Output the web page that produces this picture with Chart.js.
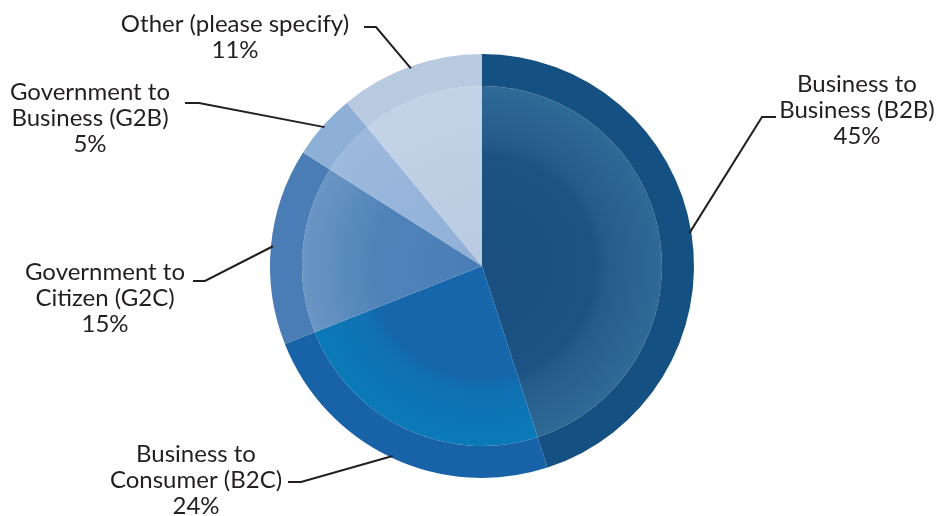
<!DOCTYPE html>
<html>
<head>
<meta charset="utf-8">
<title>E-commerce models</title>
<script src="https://cdn.jsdelivr.net/npm/chart.js@4.4.1/dist/chart.umd.min.js"></script>
<style>
  html, body { margin: 0; padding: 0; background: #fff; }
  #wrap { width: 937px; height: 516px; }
</style>
</head>
<body>
<div id="wrap"><canvas id="modelShare" width="937" height="516"></canvas></div>
<script>
const categories = ['Business to Business (B2B)', 'Business to Consumer (B2C)', 'Government to Citizen (G2C)', 'Government to Business (G2B)', 'Other (please specify)'];
const labelLines = [
    ['Business to', 'Business (B2B)'],
    ['Business to', 'Consumer (B2C)'],
    ['Government to', 'Citizen (G2C)'],
    ['Government to', 'Business (G2B)'],
    ['Other (please specify)']
];
const shares = [45, 24, 15, 5, 11];

// rim colours and the shaded disc inside it
const rimColors = ['#145082', '#1862a8', '#4a7db5', '#8eafd6', '#b8cae0'];
const discStops = [
    [[0, '#1a4f80'], [0.62, '#1c5284'], [0.69, '#245b8b'], [1, '#2f6a97']],
    [[0, '#1766ab'], [0.62, '#1566ab'], [0.69, '#1070b2'], [1, '#0a7ab8']],
    [[0, '#4a7db5'], [0.62, '#5084b9'], [1, '#6a95c4']],
    [[0, '#8fb0d7'], [1, '#9db9dd']],
    [[0, '#b9cbe1'], [1, '#c3d3e7']]
];

// where each callout goes: text centre x, first baseline, elbow and end of the short horizontal tick
const callouts = [
    { x: 857, y: 92, elbow: [762, 117], tick: [776, 117] },
    { x: 196, y: 462, elbow: [301, 482], tick: [288, 482] },
    { x: 105, y: 280, elbow: [205, 281], tick: [193, 281] },
    { x: 90, y: 100, elbow: [199, 103], tick: [185, 103] },
    { x: 235, y: 32, elbow: [376, 27], tick: [364, 27] }
];

function discGradient(context) {
    const chart = context.chart;
    const area = chart.chartArea;
    if (!area) return rimColors[context.dataIndex];
    const cx = (area.left + area.right) / 2;
    const cy = (area.top + area.bottom) / 2;
    const r = Math.min(area.width, area.height) / 2 * 180 / 212;
    const g = chart.ctx.createRadialGradient(cx, cy, 0, cx, cy, r);
    discStops[context.dataIndex].forEach(s => g.addColorStop(s[0], s[1]));
    return g;
}

const calloutPlugin = {
    id: 'callouts',
    afterDatasetsDraw(chart) {
        const ctx = chart.ctx;
        const arcs = chart.getDatasetMeta(0).data;
        ctx.save();
        ctx.strokeStyle = '#231f20';
        ctx.lineWidth = 2;
        ctx.fillStyle = '#231f20';
        ctx.font = '24px Lato';
        ctx.textAlign = 'center';
        ctx.textBaseline = 'alphabetic';
        arcs.forEach((arc, i) => {
            const c = callouts[i];
            const mid = (arc.startAngle + arc.endAngle) / 2;
            const px = arc.x + Math.cos(mid) * (arc.outerRadius - 2);
            const py = arc.y + Math.sin(mid) * (arc.outerRadius - 2);
            ctx.beginPath();
            ctx.moveTo(px, py);
            ctx.lineTo(c.elbow[0], c.elbow[1]);
            ctx.lineTo(c.tick[0], c.tick[1]);
            ctx.stroke();
            const lines = labelLines[i].concat([shares[i] + '%']);
            lines.forEach((t, k) => ctx.fillText(t, c.x, c.y + k * 26));
        });
        ctx.restore();
    }
};

new Chart(document.getElementById('modelShare'), {
    type: 'pie',
    data: {
        labels: categories,
        datasets: [
            {
                data: shares,
                backgroundColor: rimColors,
                borderWidth: 0,
                weight: 32
            },
            {
                data: shares,
                backgroundColor: discGradient,
                borderWidth: 0,
                weight: 180
            }
        ]
    },
    options: {
        responsive: false,
        devicePixelRatio: 1,
        animation: false,
        events: [],
        layout: { padding: { left: 270, right: 243, top: 54, bottom: 38 } },
        plugins: {
            legend: { display: false },
            tooltip: { enabled: false }
        }
    },
    plugins: [calloutPlugin]
});
</script>
</body>
</html>
